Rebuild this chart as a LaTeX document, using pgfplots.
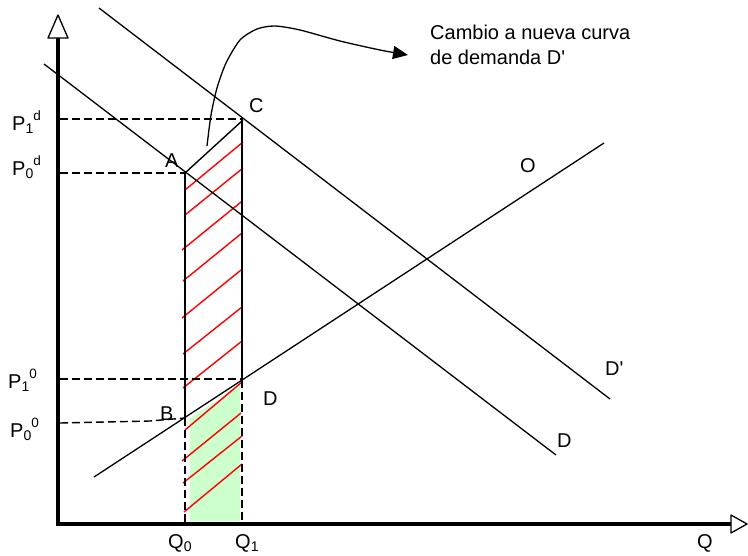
\documentclass[border=0pt]{standalone}
\usepackage{pgfplots}
\pgfplotsset{compat=1.18}
\usepackage{fontspec}
\setmainfont{Liberation Sans}
\newfontfamily\plainsans{Liberation Sans}
\usetikzlibrary{arrows.meta}
\definecolor{lgreen}{RGB}{204,255,204}
\newcommand{\lsub}[1]{\raisebox{-3pt}{\fontsize{14}{14}\selectfont #1}}
\newcommand{\lsup}[1]{\raisebox{10pt}{\fontsize{13.5}{14}\selectfont #1}}
\newcommand{\apos}{{\plainsans '}}
\tikzset{
  lab/.style={anchor=base west, inner sep=0pt, font=\fontsize{20}{24}\selectfont},
  dsh/.style={black, line width=1.4pt, dash pattern=on 8pt off 4pt},
}
\begin{document}
\begin{tikzpicture}
\begin{axis}[
  width=748pt, height=555pt, scale only axis,
  xmin=0, xmax=748, ymin=0, ymax=555, y dir=reverse,
  hide axis, clip=false,
  every axis plot/.append style={line join=round},
]
\path (axis cs:0,0) rectangle (axis cs:748,555);
% green area
\addplot[fill=lgreen, draw=none] coordinates {(190,418) (240,386) (240,521) (190,521)} -- cycle;
% red hatching
\addplot[red, line width=1.4pt] coordinates {(185,190) (243,142)};
\addplot[red, line width=1.4pt] coordinates {(185,215) (243,168)};
\addplot[red, line width=1.4pt] coordinates {(182,250) (241,202)};
\addplot[red, line width=1.4pt] coordinates {(183,281) (242,233)};
\addplot[red, line width=1.4pt] coordinates {(182,318) (241,270)};
\addplot[red, line width=1.4pt] coordinates {(183,354) (242,307)};
\addplot[red, line width=1.4pt] coordinates {(183,388) (242,341)};
\addplot[red, line width=1.4pt] coordinates {(185,430) (242,382)};
\addplot[red, line width=1.4pt] coordinates {(182,461) (241,413)};
\addplot[red, line width=1.4pt] coordinates {(183,483) (242,436)};
\addplot[red, line width=1.4pt] coordinates {(184,512) (242,464)};
% curves
\addplot[black, line width=1.3pt] coordinates {(44,64) (556,455)};   % D
\addplot[black, line width=1.3pt] coordinates {(99,8) (610,399)};    % D'
\addplot[black, line width=1.3pt] coordinates {(94,477) (604,143)};  % O
% dashed guides
\addplot[dsh] coordinates {(60,119) (243,119)};
\addplot[dsh] coordinates {(60,173) (185,173)};
\addplot[dsh] coordinates {(60,379) (242,379)};
\addplot[dsh] coordinates {(60,423) (150,421) (185,418)};
\addplot[dsh] coordinates {(185,418) (185,522)};
\addplot[dsh] coordinates {(242,380) (242,522)};
% rectangle sides
\addplot[black, line width=1.4pt] coordinates {(185,173) (185,418)};
\addplot[black, line width=1.4pt] coordinates {(242,120) (242,380)};
\addplot[black, line width=1.4pt] coordinates {(185,173) (243,120)};
% curved arrow
\addplot[black, line width=1.3pt, smooth, tension=0.45, -{Triangle[length=15pt,width=13pt]}] coordinates {
 (207,146) (211,115) (217,88) (226,63) (240,40) (257,29) (275,26) (300,30) (340,41) (380,50) (408,55)};
% axes
\addplot[black, line width=3.5pt] coordinates {(58,38) (58,525.75)};
\addplot[black, line width=3.5pt] coordinates {(56.25,524) (732,524)};
\addplot[black, fill=white, line width=1.3pt] coordinates {(48,38) (68,38) (58,15)} -- cycle;
\addplot[black, fill=white, line width=1.3pt] coordinates {(731,515) (731,533) (747,524)} -- cycle;
% labels
\node[lab] at (axis cs:430,39) {Cambio a nueva curva};
\node[lab] at (axis cs:430,64) {de demanda D\apos};
\node[lab] at (axis cs:165,167) {A};
\node[lab] at (axis cs:249,112) {C};
\node[lab] at (axis cs:160,420) {B};
\node[lab] at (axis cs:263,405) {D};
\node[lab] at (axis cs:520,172) {O};
\node[lab] at (axis cs:605,375) {D\apos};
\node[lab] at (axis cs:557,447) {D};
\node[lab] at (axis cs:697,548) {Q};
\node[lab] at (axis cs:168,548) {Q\lsub{0}};
\node[lab] at (axis cs:235,548) {Q\lsub{1}};
\node[lab] at (axis cs:12,130) {P\lsub{1}\lsup{d}};
\node[lab] at (axis cs:12,175) {P\lsub{0}\lsup{d}};
\node[lab] at (axis cs:8,388) {P\lsub{1}\lsup{0}};
\node[lab] at (axis cs:10,437) {P\lsub{0}\lsup{0}};
\end{axis}
\end{tikzpicture}
\end{document}
